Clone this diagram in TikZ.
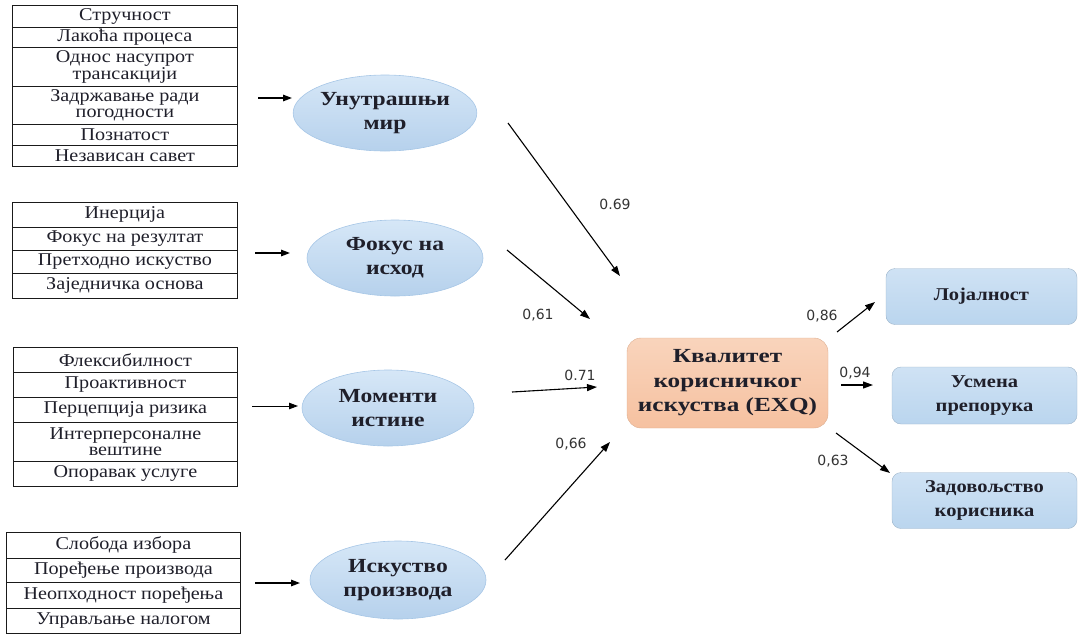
\documentclass[tikz,border=0pt]{standalone}
\usepackage{fontspec}
\setmainfont{Liberation Serif}
\newfontfamily\cellfont[FakeStretch=1.12]{Liberation Serif}
\newfontfamily\headfont[FakeStretch=1.18]{Liberation Serif}
\newfontfamily\corefont[FakeStretch=1.26]{Liberation Serif}
\newfontfamily\outfont[FakeStretch=1.14]{Liberation Serif}
\newfontfamily\numfont{DejaVu Sans}
\usetikzlibrary{arrows.meta, shapes.geometric}

\definecolor{cellline}{HTML}{1A1A1A}
\definecolor{ellfill}{HTML}{B6D1EC}
\definecolor{elllight}{HTML}{D6E7F7}
\definecolor{ellrim}{HTML}{A6C6E6}
\definecolor{boxfill}{HTML}{BAD5EE}
\definecolor{boxlight}{HTML}{CFE2F4}
\definecolor{corefill}{HTML}{F6C1A0}
\definecolor{corelight}{HTML}{F9D4BC}
\definecolor{txt}{HTML}{1F1F2A}
\definecolor{numtxt}{HTML}{333333}

\begin{document}
\begin{tikzpicture}[x=1pt, y=-1pt,
  cell/.style={draw=cellline, line width=0.8pt, anchor=north west, inner sep=0pt,
    align=center, text=txt, font=\cellfont\fontsize{18}{16.5}\selectfont},
  factor/.style={ellipse, inner sep=0pt, minimum width=172pt, minimum height=76pt,
    align=center, text=txt, font=\headfont\bfseries\fontsize{20}{24}\selectfont,
    top color=elllight, bottom color=ellfill, draw=ellrim, line width=0.6pt},
  corebox/.style={rectangle, rounded corners=14pt, minimum width=201pt, minimum height=90pt,
    align=center, text=txt, font=\corefont\bfseries\fontsize{20}{24.5}\selectfont,
    top color=corelight, bottom color=corefill, draw=corefill!90!black, line width=0.4pt},
  outbox/.style={rectangle, rounded corners=9pt, minimum height=56pt,
    align=center, text=txt, font=\outfont\bfseries\fontsize{18}{24}\selectfont,
    top color=boxlight, bottom color=boxfill, draw=boxfill!85!black, line width=0.4pt},
  feed/.style={-{Triangle[length=9pt,width=6.5pt]}, line width=1.4pt, black},
  path/.style={-{Triangle[length=10pt,width=7pt]}, line width=1.1pt, black},
  coef/.style={font=\numfont\fontsize{14}{14}\selectfont, text=numtxt, inner sep=0pt}
]
\path[use as bounding box] (0,0) rectangle (1081,635);

% ---- indicator table: inner peace
\node[cell, minimum width=225pt, minimum height=22pt] (a1) at (12,5) {Стручност};
\node[cell, minimum width=225pt, minimum height=20pt] (a2) at (12,27) {Лакоћа процеса};
\node[cell, minimum width=225pt, minimum height=39pt] (a3) at (12,47) {Однос насупрот\\трансакцији};
\node[cell, minimum width=225pt, minimum height=38pt] (a4) at (12,86) {Задржавање ради\\погодности};
\node[cell, minimum width=225pt, minimum height=21pt] (a5) at (12,124) {Познатост};
\node[cell, minimum width=225pt, minimum height=21pt] (a6) at (12,145) {Независан савет};

% ---- indicator table: outcome focus
\node[cell, minimum width=225pt, minimum height=25pt] (b1) at (12,202) {Инерција};
\node[cell, minimum width=225pt, minimum height=23pt] (b2) at (12,227) {Фокус на резултат};
\node[cell, minimum width=225pt, minimum height=23pt] (b3) at (12,250) {Претходно искуство};
\node[cell, minimum width=225pt, minimum height=25pt] (b4) at (12,273) {Заједничка основа};

% ---- indicator table: moments of truth
\node[cell, minimum width=224pt, minimum height=25pt] (c1) at (13,347) {Флексибилност};
\node[cell, minimum width=224pt, minimum height=25pt] (c2) at (13,372) {Проактивност};
\node[cell, minimum width=224pt, minimum height=25pt] (c3) at (13,397) {Перцепција ризика};
\node[cell, minimum width=224pt, minimum height=39pt] (c4) at (13,422) {Интерперсоналне\\вештине};
\node[cell, minimum width=224pt, minimum height=25pt] (c5) at (13,461) {Опоравак услуге};

% ---- indicator table: product experience
\node[cell, minimum width=234pt, minimum height=26pt] (d1) at (6,532) {Слобода избора};
\node[cell, minimum width=234pt, minimum height=24pt] (d2) at (6,558) {Поређење производа};
\node[cell, minimum width=234pt, minimum height=26pt] (d3) at (6,582) {Неопходност поређења};
\node[cell, minimum width=234pt, minimum height=25pt] (d4) at (6,608) {Управљање налогом};

% ---- latent factors
\node[factor] (e1) at (385,113) {Унутрашњи\\мир};
\node[factor, minimum width=176pt] (e2) at (395,258) {Фокус на\\исход};
\node[factor] (e3) at (388,408) {Моменти\\истине};
\node[factor, minimum width=176pt, minimum height=78pt] (e4) at (398,580) {Искуство\\производа};

% ---- central construct and outcomes
\node[corebox] (q) at (727.5,383) {Квалитет\\корисничког\\искуства (EXQ)};
\node[outbox, minimum width=191pt] (o1) at (981.5,296.5) {Лојалност};
\node[outbox, minimum width=185pt, minimum height=57pt] (o2) at (984.5,395.5) {Усмена\\препорука};
\node[outbox, minimum width=185pt] (o3) at (984.5,500.5) {Задовољство\\корисника};

% ---- arrow end points
\coordinate (fa) at (258,98);  \coordinate (ga) at (292,98);
\coordinate (fb) at (255,253); \coordinate (gb) at (290,253);
\coordinate (fc) at (252,406); \coordinate (gc) at (298,406);
\coordinate (fd) at (255,583); \coordinate (gd) at (300,583);

\coordinate (s1) at (508,123); \coordinate (t1) at (620,276);
\coordinate (s2) at (507,250); \coordinate (t2) at (590,319);
\coordinate (s3) at (512,392); \coordinate (t3) at (597,387);
\coordinate (s4) at (505,560); \coordinate (t4) at (610,442);

\coordinate (u1) at (837,332); \coordinate (v1) at (875,302);
\coordinate (u2) at (841,385); \coordinate (v2) at (873,385);
\coordinate (u3) at (836,433); \coordinate (v3) at (890,473);

% ---- indicator arrows
\draw[feed] (fa) -- (ga);
\draw[feed] (fb) -- (gb);
\draw[feed, line width=0.9pt] (fc) -- (gc);
\draw[feed] (fd) -- (gd);

% ---- structural paths
\draw[path] (s1) -- (t1);
\draw[path] (s2) -- (t2);
\draw[path] (s3) -- (t3);
\draw[path] (s4) -- (t4);
\draw[path] (u1) -- (v1);
\draw[path] (u2) -- (v2);
\draw[path] (u3) -- (v3);

% ---- path coefficients
\node[coef] (k1) at (615,204) {0.69};
\node[coef] (k2) at (538,315) {0,61};
\node[coef] (k3) at (580,375) {0.71};
\node[coef] (k4) at (571,444) {0,66};
\node[coef] (k5) at (822,316) {0,86};
\node[coef] (k6) at (855,373) {0,94};
\node[coef] (k7) at (833,461) {0,63};
\end{tikzpicture}
\end{document}
